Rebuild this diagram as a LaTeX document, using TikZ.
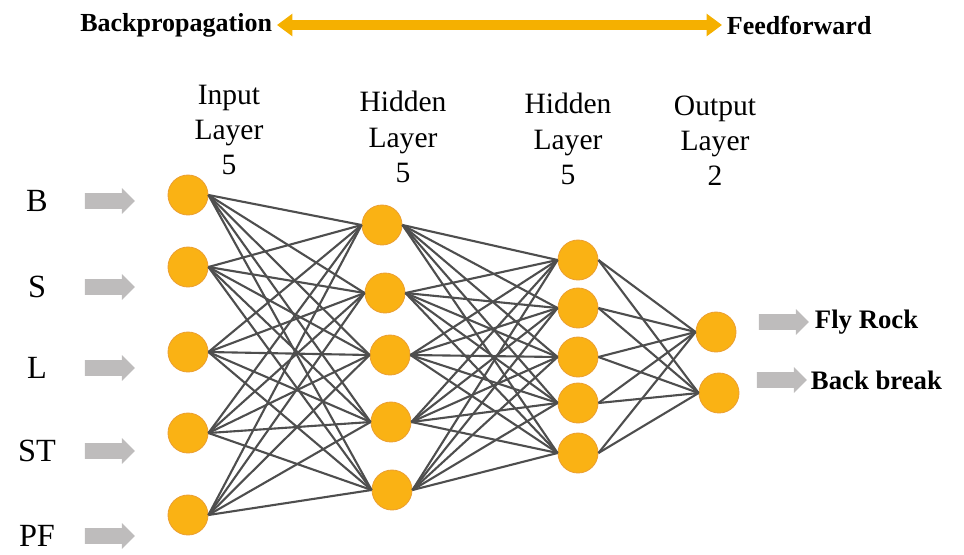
\documentclass[tikz,border=0pt]{standalone}
\usepackage{fontspec}
\setmainfont{Liberation Serif}
\usetikzlibrary{arrows.meta,shapes.arrows}
\definecolor{neuronfill}{RGB}{250,178,20}
\definecolor{neuronedge}{RGB}{236,160,50}
\definecolor{linkgray}{RGB}{78,78,78}
\definecolor{feedgray}{RGB}{190,188,188}
\definecolor{flowgold}{RGB}{245,176,0}
\begin{document}
\begin{tikzpicture}[
  x=0.025cm, y=-0.025cm,
  neuron/.style={circle, fill=neuronfill, draw=neuronedge, line width=0.6pt, minimum size=1cm, inner sep=0pt},
  conn/.style={draw=linkgray, line width=1.5pt},
  feed/.style={single arrow, fill=feedgray, draw=none, inner xsep=0pt, inner ysep=0.1875cm,
    single arrow head extend=0.13cm, single arrow head indent=0pt, minimum height=1.25cm},
  layerlbl/.style={align=center, font=\fontsize{21}{25}\selectfont},
  varlbl/.style={font=\fontsize{23}{27}\selectfont},
  outlbl/.style={anchor=west, font=\fontsize{19}{23}\selectfont\bfseries},
  toplbl/.style={font=\fontsize{18.5}{22}\selectfont\bfseries}
]
  \useasboundingbox (0,0) rectangle (964,554);

  \node[toplbl, anchor=east] (bp) at (277,25) {Backpropagation};
  \node[toplbl, anchor=west] (ff) at (722,25) {Feedforward};
  \draw[flowgold, line width=7pt, {Triangle[width=15.5pt, length=11pt]}-{Triangle[width=15.5pt, length=11pt]}] (bp) -- (ff);

  \node[layerlbl] (tin) at (229,130) {Input\\Layer\\5};
  \node[layerlbl] (tha) at (403,137) {Hidden\\Layer\\5};
  \node[layerlbl] (thb) at (568,139) {Hidden\\Layer\\5};
  \node[layerlbl] (tout) at (715,141) {Output\\Layer\\2};

  \foreach \y [count=\i] in {195,267,352,433,515}
    \node[neuron] (in\i) at (188,\y) {};
  \foreach \x/\y [count=\i] in {382/225,385/293,390/355,391/422,392/490}
    \node[neuron] (ha\i) at (\x,\y) {};
  \foreach \y [count=\i] in {260,308,357,403,453}
    \node[neuron] (hb\i) at (578,\y) {};
  \foreach \x/\y [count=\i] in {716/332,719/393}
    \node[neuron] (out\i) at (\x,\y) {};

  \foreach \i in {1,...,5}
    \foreach \j in {1,...,5} {
      \draw[conn] (in\i.east) -- (ha\j.west);
      \draw[conn] (ha\i.east) -- (hb\j.west);
    }
  \foreach \i in {1,...,5}
    \foreach \j in {1,2}
      \draw[conn] (hb\i.east) -- (out\j.west);

  \foreach \t/\y/\n in {B/201/b,S/287/s,L/368/l,ST/451/st,PF/536/pf} {
    \node[varlbl] (lbl\n) at (37,\y) {\t};
    \node[feed] (arr\n) at (106,\y) {};
  }

  \node[feed] (arrfly) at (780,322) {};
  \node[feed] (arrback) at (778,380) {};
  \node[outlbl] (fly) at (810,322) {Fly Rock};
  \node[outlbl] (back) at (806,380) {Back break};
\end{tikzpicture}
\end{document}
